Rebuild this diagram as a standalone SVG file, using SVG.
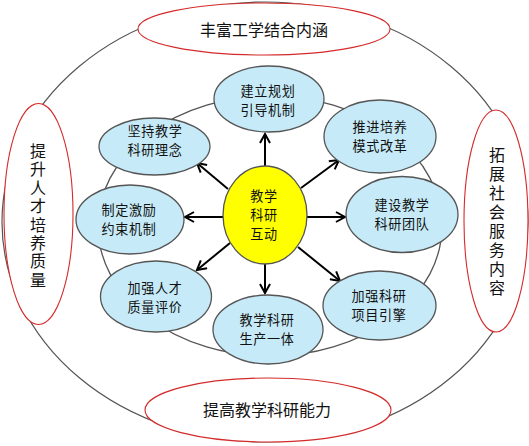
<svg xmlns="http://www.w3.org/2000/svg" width="529" height="446" viewBox="0 0 529 446">
<defs>
<style>
.outer{fill:#fff;stroke:#555;stroke-width:1.2}
.ring{fill:none;stroke:#555;stroke-width:1.3}
.red{fill:#fff;stroke:#d42a2a;stroke-width:1.1}
.node{fill:#c6eaf7;stroke:#555;stroke-width:1.3}
.hub{fill:#ffff00;stroke:#555;stroke-width:1.3}
.t{font-family:"Noto Sans CJK SC","Noto Sans",sans-serif;fill:#111;text-anchor:middle}
.big{font-size:16px}
.sm{font-size:13.1px;letter-spacing:0.6px}
.vt{font-family:"Noto Sans CJK SC","Noto Sans",sans-serif;fill:#111;font-size:16px;writing-mode:vertical-rl;text-anchor:start}
.arr{stroke:#000;stroke-width:2;fill:none;marker-end:url(#ah)}
</style>
<marker id="ah" viewBox="0 0 12 12" refX="10" refY="6" markerWidth="12" markerHeight="12" markerUnits="userSpaceOnUse" orient="auto">
<path d="M1,1 L10,6 L1,11" fill="none" stroke="#000" stroke-width="2"/>
</marker>
</defs>
<rect width="529" height="446" fill="#fff"/>
<g id="outer-ring"><ellipse class="outer" cx="265" cy="222" rx="263" ry="220"/></g>
<g id="top-goal"><ellipse class="red" cx="264" cy="29" rx="126" ry="26"/><text class="t big" x="264" y="36">丰富工学结合内涵</text></g>
<g id="bottom-goal"><ellipse class="red" cx="268" cy="410" rx="123" ry="32"/><text class="t big" x="267" y="416">提高教学科研能力</text></g>
<g id="left-goal"><ellipse class="red" cx="38.5" cy="214" rx="34.5" ry="110.5"/>
<text class="vt" x="38" y="143" letter-spacing="2.4">提升人才培养质量</text></g>
<g id="right-goal"><ellipse class="red" cx="496" cy="221" rx="32" ry="111"/>
<text class="vt" x="497" y="147" letter-spacing="3">拓展社会服务内容</text></g>
<g id="inner-ring"><ellipse class="ring" cx="270" cy="226" rx="172" ry="130"/></g>
<g id="connectors">
<line class="arr" x1="265" y1="166" x2="265" y2="134"/>
<line class="arr" x1="228" y1="189" x2="197" y2="163"/>
<line class="arr" x1="301" y1="188" x2="339" y2="160"/>
<line class="arr" x1="223" y1="217" x2="185" y2="217"/>
<line class="arr" x1="307" y1="217" x2="345" y2="217"/>
<line class="arr" x1="230" y1="243" x2="197" y2="270"/>
<line class="arr" x1="265" y1="264" x2="265" y2="293"/>
<line class="arr" x1="298" y1="247" x2="340" y2="281"/>
</g>
<g id="hub"><ellipse class="hub" cx="265" cy="215" rx="42" ry="49"/><text class="t sm"><tspan x="264" y="201">教学</tspan><tspan x="264" y="220">科研</tspan><tspan x="264" y="239">互动</tspan></text></g>
<g id="n1"><ellipse class="node" cx="269" cy="99" rx="55" ry="33"/><text class="t sm"><tspan x="268" y="95.5">建立规划</tspan><tspan x="268" y="114.5">引导机制</tspan></text></g>
<g id="n2"><ellipse class="node" cx="154.5" cy="146.5" rx="55.5" ry="28.5"/><text class="t sm"><tspan x="155" y="135.5">坚持教学</tspan><tspan x="155" y="154.5">科研理念</tspan></text></g>
<g id="n3"><ellipse class="node" cx="380" cy="136.5" rx="56" ry="36.5"/><text class="t sm"><tspan x="380" y="131.5">推进培养</tspan><tspan x="380" y="150.5">模式改革</tspan></text></g>
<g id="n4"><ellipse class="node" cx="402" cy="214.5" rx="56" ry="38"/><text class="t sm"><tspan x="402" y="210">建设教学</tspan><tspan x="402" y="229">科研团队</tspan></text></g>
<g id="n5"><ellipse class="node" cx="130" cy="219.5" rx="54" ry="34.5"/><text class="t sm"><tspan x="129" y="214.5">制定激励</tspan><tspan x="129" y="233.5">约束机制</tspan></text></g>
<g id="n6"><ellipse class="node" cx="156" cy="296.5" rx="55.5" ry="35.5"/><text class="t sm"><tspan x="155" y="292.5">加强人才</tspan><tspan x="155" y="311.5">质量评价</tspan></text></g>
<g id="n7"><ellipse class="node" cx="268" cy="329.5" rx="55" ry="34.5"/><text class="t sm"><tspan x="267" y="324.5">教学科研</tspan><tspan x="267" y="343.5">生产一体</tspan></text></g>
<g id="n8"><ellipse class="node" cx="379.5" cy="305.5" rx="56.5" ry="34.5"/><text class="t sm"><tspan x="379" y="300.5">加强科研</tspan><tspan x="379" y="319.5">项目引擎</tspan></text></g>
</svg>
